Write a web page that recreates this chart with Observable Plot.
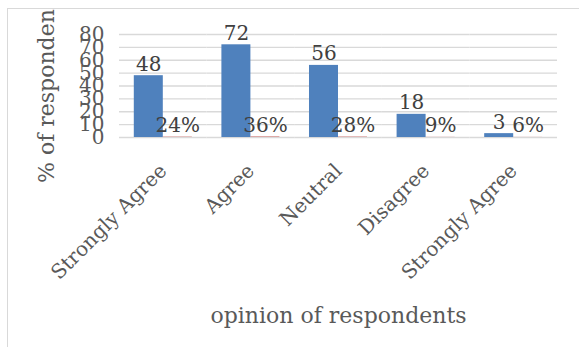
<!DOCTYPE html>
<html>
<head>
<meta charset="utf-8">
<script src="https://cdn.jsdelivr.net/npm/d3@7"></script>
<script src="https://cdn.jsdelivr.net/npm/@observablehq/plot@0.6"></script>
<style>
  html, body { margin: 0; padding: 0; background: #fff; }
  #stage { position: relative; width: 579px; height: 347px; overflow: hidden; }
  #border { position: absolute; left: 7px; top: 8px; width: 700px; height: 500px; border: 1px solid #d9d9d9; box-sizing: border-box; }
  #clip { position: absolute; left: 0; top: 9px; width: 579px; height: 338px; overflow: hidden; }
  #inner { position: relative; top: -9px; }
</style>
</head>
<body>
<div id="stage">
  <div id="border"></div>
  <div id="clip"><div id="inner"></div></div>
</div>
<script>
const categories = ["Strongly Agree", "Agree", "Neutral", "Disagree", "Strongly Agree"];
const counts = [48, 72, 56, 18, 3];
const shares = [0.24, 0.36, 0.28, 0.09, 0.06];
const shareLabels = ["24%", "36%", "28%", "9%", "6%"];
const yTicks = [0, 10, 20, 30, 40, 50, 60, 70, 80];
const xTitle = "opinion of respondents";
const yTitle = "% of respondents";

const rows = [];
categories.forEach((c, i) => {
  rows.push({cat: i, series: "count", value: counts[i], label: String(counts[i])});
  rows.push({cat: i, series: "share", value: shares[i], label: shareLabels[i]});
});

const catLabel = i => categories[i];

const chart = Plot.plot({
  width: 579,
  height: 347,
  marginLeft: 119,
  marginRight: 22,
  marginTop: 34,
  marginBottom: 210,
  style: {fontFamily: "DejaVu Serif", fontSize: "20px", color: "#595959", background: "transparent"},
  fx: {domain: d3.range(categories.length), padding: 0, round: false, tickFormat: catLabel},
  x: {domain: ["count", "share"], paddingInner: 0, paddingOuter: 0.51, round: false, axis: null},
  y: {domain: [0, 80]},
  color: {domain: ["count", "share"], range: ["#4f81bd", "#c0504d"]},
  marks: [
    Plot.gridY(yTicks, {stroke: "#d9d9d9", strokeOpacity: 1, strokeWidth: 1.3}),
    Plot.axisY(yTicks, {tickSize: 0, tickPadding: 15, label: null, fontSize: 20}),
    Plot.axisY([], {label: yTitle, labelAnchor: "center", labelArrow: "none", labelOffset: 81, fontSize: 22}),
    Plot.axisFx({anchor: "bottom", tickSize: 0, tickRotate: -45, tickPadding: 30, fontSize: 20, tickFormat: catLabel, label: null}),
    Plot.axisFx([], {anchor: "bottom", label: xTitle, labelAnchor: "center", labelArrow: "none", labelOffset: 185, fontSize: 22}),
    Plot.barY(rows, {fx: "cat", x: "series", y: "value", fill: "series", inset: 0}),
    Plot.text(rows, {fx: "cat", x: "series", y: "value", text: "label", lineAnchor: "bottom", dy: -5, fontSize: 20, fill: "#404040"})
  ]
});
document.getElementById("inner").appendChild(chart);
</script>
</body>
</html>
